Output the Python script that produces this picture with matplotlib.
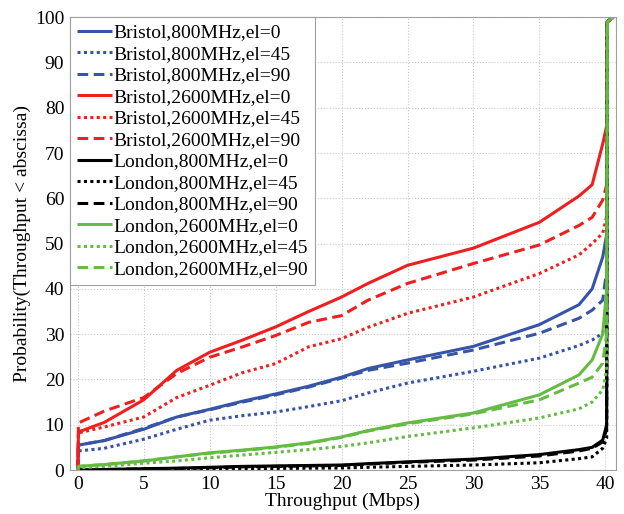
import matplotlib
matplotlib.use("Agg")
import matplotlib.pyplot as plt

plt.rcParams['font.family'] = ['Liberation Serif', 'DejaVu Serif']
plt.rcParams['font.size'] = 14

# Throughput grid (Mbps) shared by all CDF series
x_mbps = [0, 0.05, 2, 5, 7.5, 10, 12.5, 15, 17.5, 20, 22, 25, 30, 35, 38, 39, 39.8, 40.1, 40.15, 40.6]

bristol_800_el0 = [0, 5.5, 6.5, 9.0, 11.7, 13.4, 15.2, 16.8, 18.5, 20.5, 22.4, 24.3, 27.3, 32.1, 36.5, 40.0, 47.0, 52.0, 99, 100]
bristol_800_el45 = [0, 4.2, 4.8, 6.8, 9.0, 11.0, 12.0, 12.8, 14.0, 15.3, 17.0, 19.2, 21.8, 24.7, 27.5, 28.7, 30.2, 35.0, 99, 100]
bristol_800_el90 = [0, 5.5, 6.5, 9.2, 11.7, 13.3, 15.0, 16.6, 18.3, 20.3, 22.0, 23.6, 26.5, 30.2, 33.5, 35.3, 37.5, 44.0, 99, 100]
bristol_2600_el0 = [0, 8.4, 10.5, 15.5, 22.0, 26.0, 28.7, 31.6, 35.0, 38.2, 41.2, 45.2, 49.0, 54.7, 60.5, 63.0, 72.0, 76.0, 99, 100]
bristol_2600_el45 = [0, 8.2, 9.5, 11.7, 16.0, 18.7, 21.5, 23.5, 27.2, 29.0, 31.5, 34.6, 38.2, 43.4, 47.5, 50.0, 52.3, 56.0, 99, 100]
bristol_2600_el90 = [0, 10.4, 13.0, 16.0, 21.3, 24.9, 27.2, 29.7, 32.6, 34.1, 37.5, 41.2, 45.6, 49.7, 54.0, 55.8, 59.6, 63.0, 99, 100]
london_800_el0 = [0, 0, 0.1, 0.3, 0.4, 0.6, 0.8, 0.9, 1.0, 1.1, 1.4, 1.8, 2.4, 3.4, 4.5, 5.0, 6.6, 10.0, 99, 100]
london_800_el45 = [0, 0, 0, 0.1, 0.15, 0.2, 0.3, 0.35, 0.4, 0.45, 0.6, 0.8, 1.1, 1.6, 2.5, 2.9, 4.8, 7.0, 99, 100]
london_800_el90 = [0, 0, 0.1, 0.25, 0.35, 0.5, 0.7, 0.8, 0.9, 1.0, 1.3, 1.7, 2.2, 3.1, 4.2, 4.8, 6.2, 9.0, 99, 100]
london_2600_el0 = [0, 0.8, 1.2, 2.0, 2.9, 3.8, 4.4, 5.1, 6.0, 7.3, 8.7, 10.4, 12.6, 16.6, 21.0, 24.3, 30.0, 40.0, 99, 100]
london_2600_el45 = [0, 0.5, 0.8, 1.5, 2.0, 2.7, 3.3, 3.9, 4.5, 5.2, 6.0, 7.4, 9.3, 11.5, 13.5, 15.0, 17.7, 22.0, 99, 100]
london_2600_el90 = [0, 0.8, 1.2, 2.0, 2.9, 3.7, 4.3, 5.0, 5.9, 7.2, 8.6, 10.2, 12.4, 15.5, 19.2, 20.5, 23.6, 30.0, 99, 100]

labels = ["Bristol,800MHz,el=0", "Bristol,800MHz,el=45", "Bristol,800MHz,el=90",
          "Bristol,2600MHz,el=0", "Bristol,2600MHz,el=45", "Bristol,2600MHz,el=90",
          "London,800MHz,el=0", "London,800MHz,el=45", "London,800MHz,el=90",
          "London,2600MHz,el=0", "London,2600MHz,el=45", "London,2600MHz,el=90"]
series = [bristol_800_el0, bristol_800_el45, bristol_800_el90,
          bristol_2600_el0, bristol_2600_el45, bristol_2600_el90,
          london_800_el0, london_800_el45, london_800_el90,
          london_2600_el0, london_2600_el45, london_2600_el90]

blue = '#3654a8'
red = '#f01e1e'
black = '#000000'
green = '#66bb44'
colors = [blue] * 3 + [red] * 3 + [black] * 3 + [green] * 3
styles = ['-', (0, (1, 1.1)), (0, (3.5, 1.8))] * 4

fig = plt.figure(figsize=(6.24, 5.14), dpi=100)
ax = fig.add_axes([0.112, 0.0856, 0.875, 0.881])

for y, lab, c, ls in zip(series, labels, colors, styles):
    ax.plot(x_mbps, y, color=c, linestyle=ls, linewidth=2.2, label=lab,
            solid_capstyle='butt', dash_capstyle='butt')

ax.set_xlim(-0.6, 40.8)
ax.set_ylim(0, 100)
ax.set_xticks(range(0, 41, 5))
ax.set_yticks(range(0, 101, 10))
ax.tick_params(length=0, pad=4, labelsize=14)
ax.grid(True, color='#c8c8c8', linestyle=':', linewidth=0.8)
for s in ax.spines.values():
    s.set_color('#a0a0a0')
    s.set_linewidth(0.8)

ax.set_xlabel("Throughput (Mbps)", fontsize=14, labelpad=0)
ax.set_ylabel("Probability(Throughput < abscissa)", fontsize=14, labelpad=3)

leg = ax.legend(loc='upper left', bbox_to_anchor=(0, 1), borderaxespad=0,
                fancybox=False, framealpha=1, edgecolor='#a0a0a0',
                handlelength=1.8, handletextpad=0.08, labelspacing=0.2,
                borderpad=0.35, fontsize=14)
leg.get_frame().set_linewidth(0.8)

fig.savefig("out.png", dpi=100)
